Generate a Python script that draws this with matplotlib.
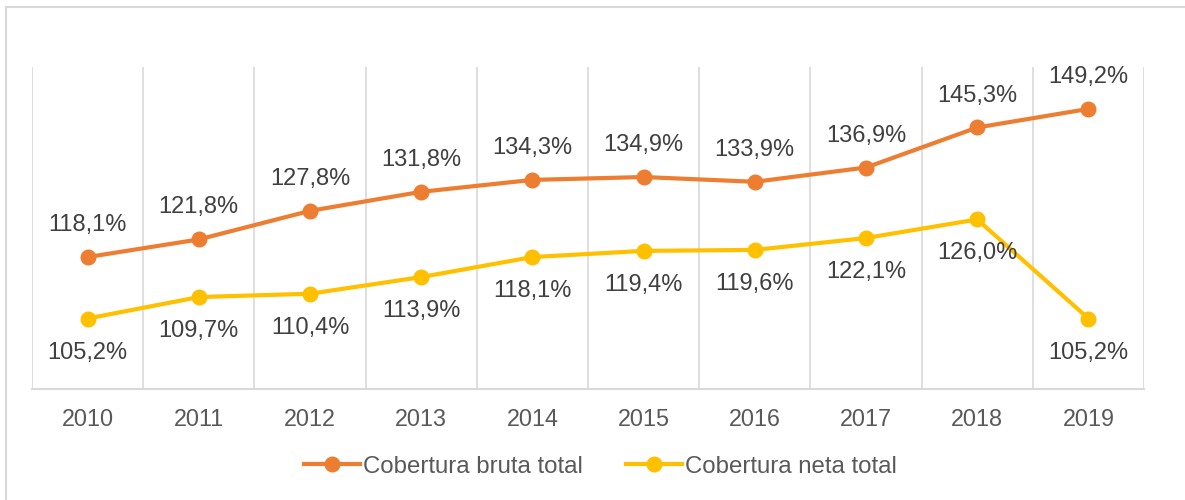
import matplotlib
matplotlib.use("Agg")
import matplotlib.pyplot as plt
from matplotlib.lines import Line2D

years = ["2010", "2011", "2012", "2013", "2014", "2015", "2016", "2017", "2018", "2019"]
bruta = [118.1, 121.8, 127.8, 131.8, 134.3, 134.9, 133.9, 136.9, 145.3, 149.2]
neta = [105.2, 109.7, 110.4, 113.9, 118.1, 119.4, 119.6, 122.1, 126.0, 105.2]
series_names = ["Cobertura bruta total", "Cobertura neta total"]

ORANGE = "#ED7D31"
YELLOW = "#FFC000"
TXT = "#595959"
LBL = "#404040"
GRID = "#D9D9D9"

plt.rcParams['font.family'] = ['Liberation Sans', 'DejaVu Sans']

W, H = 1185, 500
fig = plt.figure(figsize=(W / 100, H / 100), dpi=100)
ax = fig.add_axes([32 / W, 1 - 389 / H, (1144 - 32) / W, (389 - 67) / H])

x = list(range(len(years)))
ax.plot(x, bruta, color=ORANGE, lw=3, marker='o', ms=10.5, solid_capstyle='round', zorder=3)
ax.plot(x, neta, color=YELLOW, lw=3, marker='o', ms=10.5, solid_capstyle='round', zorder=3)

def fmt(v):
    return f"{v:.1f}".replace(".", ",") + "%"

for i, v in enumerate(bruta):
    ax.annotate(fmt(v), (i, v), xytext=(0, 23), textcoords='offset points',
                ha='center', va='center', fontsize=17, color=LBL)
for i, v in enumerate(neta):
    ax.annotate(fmt(v), (i, v), xytext=(0, -24.5), textcoords='offset points',
                ha='center', va='center', fontsize=17, color=LBL)

ax.set_xlim(-0.5, len(years) - 0.5)
ax.set_ylim(90.4, 158)
ax.set_yticks([])
ax.set_xticks(x)
ax.set_xticklabels(years, fontsize=16.8, color=TXT)
ax.tick_params(axis='x', length=0, pad=14)
for b in [i + 0.5 for i in range(-1, len(years))]:
    ax.axvline(b, color=GRID, lw=1.2, zorder=1)
for s in ['top', 'right', 'left']:
    ax.spines[s].set_visible(False)
ax.spines['bottom'].set_color(GRID)
ax.spines['bottom'].set_linewidth(1.5)

handles = [Line2D([], [], color=ORANGE, lw=3, marker='o', ms=10.5),
           Line2D([], [], color=YELLOW, lw=3, marker='o', ms=10.5)]
leg = fig.legend(handles, series_names, loc='center', bbox_to_anchor=(0.507, 1 - 466.7 / H),
                 ncol=2, frameon=False, fontsize=17.3, handlelength=2.33, handletextpad=0.12,
                 columnspacing=1.8, labelcolor=TXT)

# outer chart border
fig.add_artist(Line2D([6 / W, 6 / W], [0, 1 - 6.5 / H], color=GRID, lw=1.5, transform=fig.transFigure))
fig.add_artist(Line2D([6 / W, 1], [1 - 6.5 / H, 1 - 6.5 / H], color=GRID, lw=1.5, transform=fig.transFigure))

fig.savefig("out.png", dpi=100, facecolor='white')
